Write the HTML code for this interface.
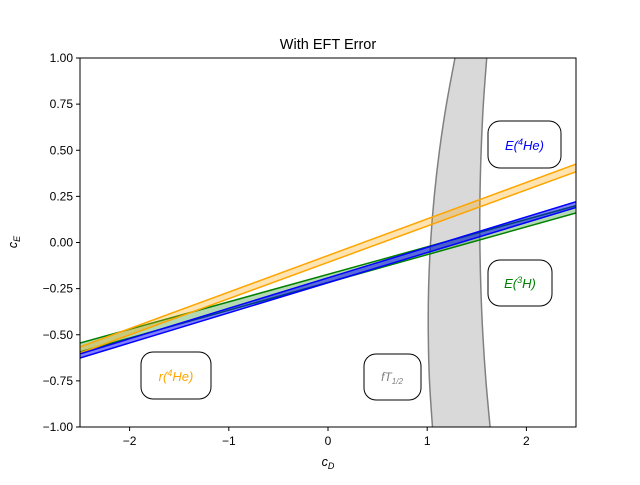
<!DOCTYPE html>
<html><head><meta charset="utf-8"><style>
body{margin:0;background:#fff}
svg{font-family:"Liberation Sans","DejaVu Sans",sans-serif}
</style></head><body>
<svg id="chart" width="640" height="480" viewBox="0 0 640 480">
<rect width="640" height="480" fill="#fff"/>
<g id="bands"></g>
<g id="axes"></g>
<text x="328" y="49" font-size="14.5" text-anchor="middle">With EFT Error</text>
<text x="328" y="466" font-size="12.5" font-style="italic" text-anchor="middle">c<tspan font-size="9" dy="3">D</tspan></text>
<text transform="translate(17,242) rotate(-90)" font-size="12.5" font-style="italic" text-anchor="middle">c<tspan font-size="9" dy="3">E</tspan></text>
<g><rect x="488" y="121" width="73" height="47" rx="12" fill="#fff" stroke="#000"/><text x="524.5" y="150" font-size="13" font-style="italic" fill="blue" text-anchor="middle">E(<tspan font-size="9" dy="-5">4</tspan><tspan dy="5">He)</tspan></text></g>
<g><rect x="488" y="260" width="64" height="46" rx="12" fill="#fff" stroke="#000"/><text x="520" y="288" font-size="13" font-style="italic" fill="green" text-anchor="middle">E(<tspan font-size="9" dy="-5">3</tspan><tspan dy="5">H)</tspan></text></g>
<g><rect x="141" y="352" width="70" height="47" rx="12" fill="#fff" stroke="#000"/><text x="176" y="381" font-size="13" font-style="italic" fill="orange" text-anchor="middle">r(<tspan font-size="9" dy="-5">4</tspan><tspan dy="5">He)</tspan></text></g>
<g><rect x="364" y="354" width="57" height="46" rx="12" fill="#fff" stroke="#000"/><text x="392" y="381" font-size="12" font-style="italic" fill="gray" text-anchor="middle">fT<tspan font-size="8" dy="3">1/2</tspan></text></g>
</svg>
<script>
const xTicks=[-2,-1,0,1,2];
const yTicks=[1.00,0.75,0.50,0.25,0.00,-0.25,-0.50,-0.75,-1.00];
const bandNames=['green-e3h','orange-r4he','blue-e4he'];
const bandLeftTop=[-0.545,-0.566,-0.604];
const bandLeftBottom=[-0.593,-0.599,-0.626];
const bandRightTop=[0.20,0.425,0.221];
const bandRightBottom=[0.16,0.384,0.19];
const bandFill=['rgba(0,128,0,0.3)','rgba(255,165,0,0.3)','rgba(0,0,255,0.5)'];
const bandStroke=['green','orange','blue'];
const grayCE=[1.0,0.75,0.5,0.25,0.0,-0.25,-0.5,-0.75,-1.0];
const grayLeft=[1.28,1.194,1.124,1.071,1.034,1.014,1.011,1.023,1.053];
const grayRight=[1.60,1.566,1.544,1.532,1.531,1.541,1.561,1.592,1.634];
const X0=80,X1=576,Y0=58,Y1=427;
const sx=v=>X0+(v+2.5)/5*(X1-X0);
const sy=v=>Y1-(v+1)/2*(Y1-Y0);
const NS='http://www.w3.org/2000/svg';
const bands=document.getElementById('bands');
const axes=document.getElementById('axes');
function mk(t,a,p){const e=document.createElementNS(NS,t);for(const k in a)e.setAttribute(k,a[k]);p.appendChild(e);return e;}
function smooth(pts){let d='M'+pts[0][0]+','+pts[0][1];
 for(let i=0;i<pts.length-1;i++){const p0=pts[i-1]||pts[i],p1=pts[i],p2=pts[i+1],p3=pts[i+2]||p2;
  d+=' C'+(p1[0]+(p2[0]-p0[0])/6)+','+(p1[1]+(p2[1]-p0[1])/6)+' '+(p2[0]-(p3[0]-p1[0])/6)+','+(p2[1]-(p3[1]-p1[1])/6)+' '+p2[0]+','+p2[1];}
 return d;}
const cp=mk('clipPath',{id:'clip'},bands);mk('rect',{x:X0,y:Y0,width:X1-X0,height:Y1-Y0},cp);
const g=mk('g',{'clip-path':'url(#clip)'},bands);
let pl=grayCE.map((c,i)=>[sx(grayLeft[i]),sy(c)]);
let pr=grayCE.map((c,i)=>[sx(grayRight[i]),sy(c)]).reverse();
const dl=smooth(pl),dr=smooth(pr);
const gp=mk('path',{d:dl+' L'+dr.slice(1)+' Z',fill:'#d9d9d9',stroke:'none'},g);


const gl=mk('path',{d:dl,fill:'none',stroke:'gray','stroke-width':1.5},g);


const gr=mk('path',{d:dr,fill:'none',stroke:'gray','stroke-width':1.5},g);


for(let i=0;i<bandNames.length;i++){
 const a=[sx(-2.5),sy(bandLeftTop[i])],b=[sx(2.5),sy(bandRightTop[i])],c=[sx(2.5),sy(bandRightBottom[i])],d=[sx(-2.5),sy(bandLeftBottom[i])];
 const p=mk('polygon',{points:[a,b,c,d].map(q=>q.join(',')).join(' '),fill:bandFill[i]},g);
 
 
 const l1=mk('line',{x1:a[0],y1:a[1],x2:b[0],y2:b[1],stroke:bandStroke[i],'stroke-width':1.5},g);
 
 
 const l2=mk('line',{x1:d[0],y1:d[1],x2:c[0],y2:c[1],stroke:bandStroke[i],'stroke-width':1.5},g);
 
 
}
const fr=mk('rect',{x:X0,y:Y0,width:X1-X0,height:Y1-Y0,fill:'none',stroke:'#000','stroke-width':1},axes);


xTicks.forEach(v=>{const x=sx(v);
 mk('line',{x1:x,y1:Y1,x2:x,y2:Y1+4,stroke:'#000'},axes);
 const t=mk('text',{x:x,y:Y1+18,'font-size':12,'text-anchor':'middle'},axes);t.textContent=v<0?'\u2212'+(-v):String(v);
 
 });
yTicks.forEach(v=>{const y=sy(v);
 mk('line',{x1:X0-4,y1:y,x2:X0,y2:y,stroke:'#000'},axes);
 const t=mk('text',{x:X0-7,y:y+4,'font-size':12,'text-anchor':'end'},axes);t.textContent=(v<0?'\u2212':'')+Math.abs(v).toFixed(2);
 
 });
</script>
</body></html>
